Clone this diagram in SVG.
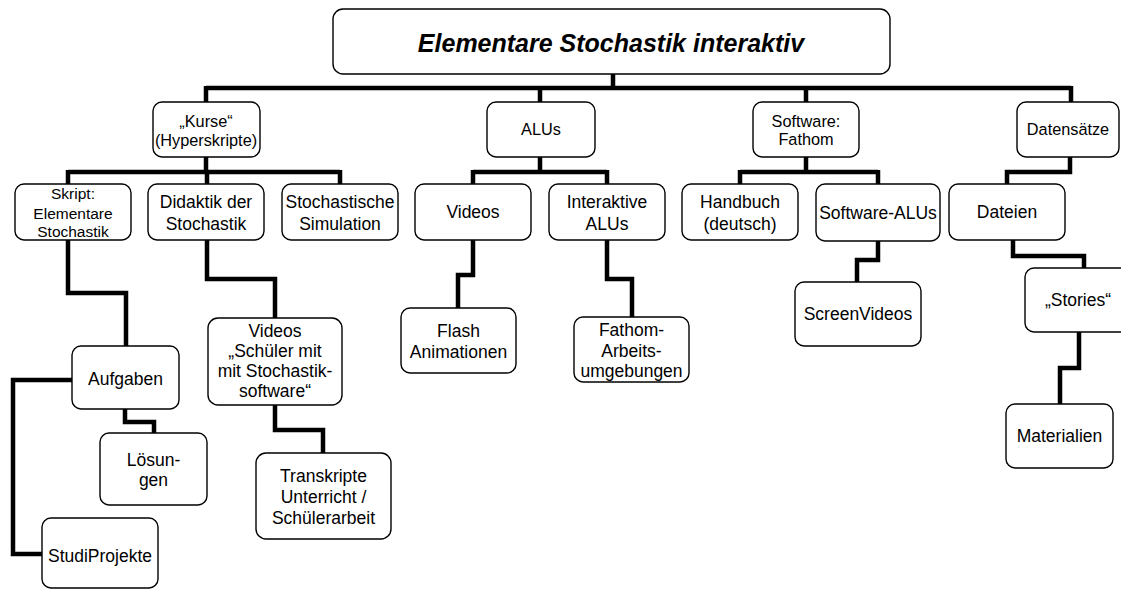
<svg xmlns="http://www.w3.org/2000/svg" width="1121" height="590" viewBox="0 0 1121 590">
<style>
.b{fill:#fff;stroke:#000;stroke-width:1.4}
.c{fill:none;stroke:#000;stroke-width:4.5;stroke-linejoin:miter;stroke-linecap:butt}
text{font-family:"Liberation Sans",Arial,sans-serif;fill:#000;text-anchor:middle}
.t1{font-size:16.3px}
.t2{font-size:17.5px}
.ts{font-size:15.5px}
.root{font-size:25px;font-weight:bold;font-style:italic}
</style>
<rect width="1121" height="590" fill="#fff"/>
<g id="connectors">
<path class="c" d="M613 74V88M206 88H1071M206 86V102M540 86V102M806 86V102M1071 86V102"/>
<path class="c" d="M206 157V172M68 172H340M68 170V184M207 170V184M340 170V184"/>
<path class="c" d="M540 157V172M473 172H607M473 170V184M607 170V184"/>
<path class="c" d="M806 157V172M740 172H878M740 170V184M878 170V184"/>
<path class="c" d="M1070 157V172H1007V184"/>
<path class="c" d="M68 240V293H126V346"/>
<path class="c" d="M72 380H13V554H42"/>
<path class="c" d="M125 409V422H154V433"/>
<path class="c" d="M207 240V279H275V318"/>
<path class="c" d="M275 405V430H323V453"/>
<path class="c" d="M473 240V275H458V308"/>
<path class="c" d="M607 240V279H632V317"/>
<path class="c" d="M878 241V260H857V282"/>
<path class="c" d="M1013 240V256H1084V268"/>
<path class="c" d="M1079 332V368H1060V404"/>
</g>
<g id="root"><rect class="b" x="333" y="9" width="557" height="65" rx="10"/><text class="root" x="611" y="52">Elementare Stochastik interaktiv</text></g>
<g id="kurse"><rect class="b" x="153" y="102" width="107" height="55" rx="9"/><text class="t1" x="206" y="127">„Kurse“</text><text class="t1" x="206" y="146">(Hyperskripte)</text></g>
<g id="alus"><rect class="b" x="487" y="102" width="108" height="55" rx="9"/><text class="t1" x="541" y="135">ALUs</text></g>
<g id="software"><rect class="b" x="753" y="102" width="106" height="55" rx="9"/><text class="t1" x="806" y="127">Software:</text><text class="t1" x="806" y="145">Fathom</text></g>
<g id="datensaetze"><rect class="b" x="1017" y="102" width="102" height="55" rx="9"/><text class="t1" x="1068" y="135">Datensätze</text></g>
<g id="skript"><rect class="b" x="15" y="184" width="116" height="56" rx="9"/><text class="ts" x="73" y="199">Skript:</text><text class="ts" x="73" y="219">Elementare</text><text class="ts" x="73" y="237">Stochastik</text></g>
<g id="didaktik"><rect class="b" x="148" y="184" width="116" height="56" rx="9"/><text class="t2" x="206" y="208">Didaktik der</text><text class="t2" x="206" y="230">Stochastik</text></g>
<g id="simulation"><rect class="b" x="282" y="184" width="116" height="56" rx="9"/><text class="t2" x="340" y="208">Stochastische</text><text class="t2" x="340" y="230">Simulation</text></g>
<g id="videos"><rect class="b" x="415" y="184" width="116" height="56" rx="9"/><text class="t2" x="473" y="218">Videos</text></g>
<g id="interaktive"><rect class="b" x="549" y="184" width="116" height="56" rx="9"/><text class="t2" x="607" y="208">Interaktive</text><text class="t2" x="607" y="230">ALUs</text></g>
<g id="handbuch"><rect class="b" x="682" y="184" width="116" height="56" rx="9"/><text class="t2" x="740" y="208">Handbuch</text><text class="t2" x="740" y="230">(deutsch)</text></g>
<g id="softwarealus"><rect class="b" x="816" y="184" width="124" height="57" rx="9"/><text class="t2" x="878" y="219">Software-ALUs</text></g>
<g id="dateien"><rect class="b" x="949" y="184" width="116" height="56" rx="9"/><text class="t2" x="1007" y="218">Dateien</text></g>
<g id="aufgaben"><rect class="b" x="72" y="346" width="107" height="63" rx="9"/><text class="t2" x="125.5" y="385">Aufgaben</text></g>
<g id="loesungen"><rect class="b" x="100" y="433" width="107" height="72" rx="9"/><text class="t2" x="153.5" y="466">Lösun-</text><text class="t2" x="153.5" y="486">gen</text></g>
<g id="studiprojekte"><rect class="b" x="42" y="518" width="116" height="70" rx="9"/><text class="t2" x="100" y="562">StudiProjekte</text></g>
<g id="videosschueler"><rect class="b" x="208" y="318" width="134" height="87" rx="10"/><text class="t2" x="275" y="337">Videos</text><text class="t2" x="275" y="357">„Schüler mit</text><text class="t2" x="275" y="377">mit Stochastik-</text><text class="t2" x="275" y="397">software“</text></g>
<g id="transkripte"><rect class="b" x="256" y="453" width="135" height="86" rx="10"/><text class="t2" x="323.5" y="482">Transkripte</text><text class="t2" x="323.5" y="503">Unterricht /</text><text class="t2" x="323.5" y="524">Schülerarbeit</text></g>
<g id="flash"><rect class="b" x="401" y="308" width="115" height="65" rx="9"/><text class="t2" x="458.5" y="337">Flash</text><text class="t2" x="458.5" y="358">Animationen</text></g>
<g id="fathom"><rect class="b" x="574" y="317" width="115" height="65" rx="9"/><text class="t2" x="631.5" y="336">Fathom-</text><text class="t2" x="631.5" y="357">Arbeits-</text><text class="t2" x="631.5" y="377">umgebungen</text></g>
<g id="screenvideos"><rect class="b" x="795" y="282" width="126" height="64" rx="9"/><text class="t2" x="858" y="320">ScreenVideos</text></g>
<g id="stories"><rect class="b" x="1025" y="268" width="106" height="64" rx="9"/><text class="t2" x="1078" y="306">„Stories“</text></g>
<g id="materialien"><rect class="b" x="1006" y="404" width="107" height="64" rx="9"/><text class="t2" x="1059.5" y="442">Materialien</text></g>
</svg>
